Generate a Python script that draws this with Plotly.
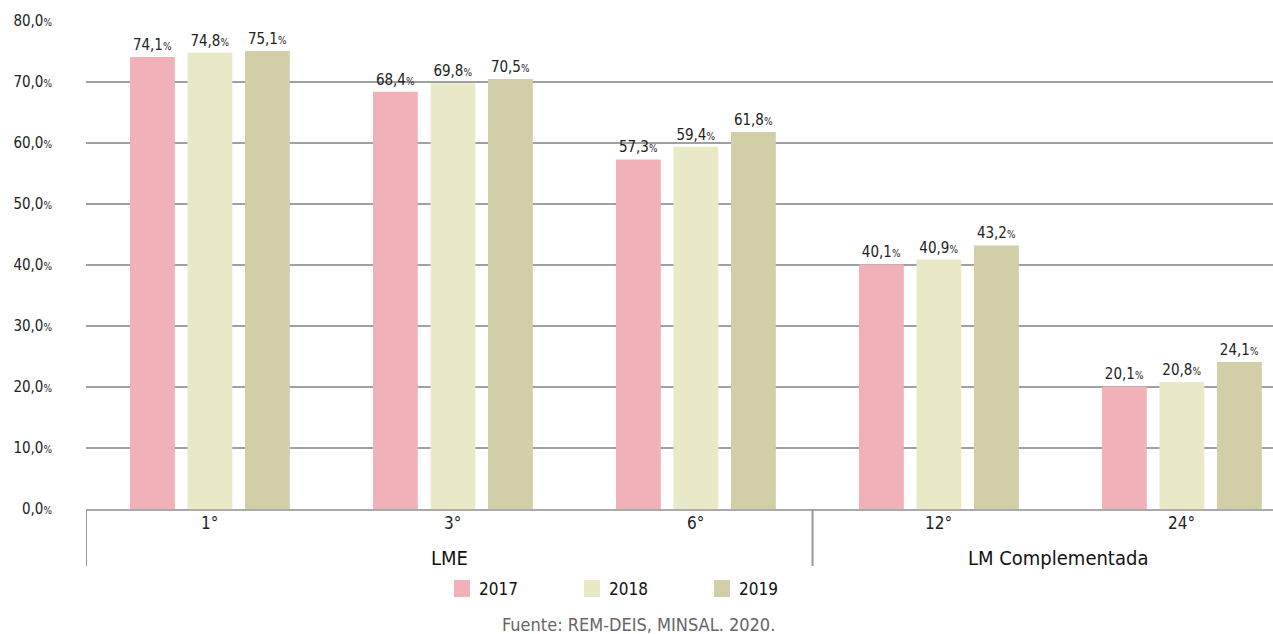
import plotly.graph_objects as go

categories = ["1°", "3°", "6°", "12°", "24°"]
groups = ["LME", "LM Complementada"]
group_spans = [(-0.51, 2.48), (2.48, 4.5)]
series_names = ["2017", "2018", "2019"]
v2017 = [74.1, 68.4, 57.3, 40.1, 20.1]
v2018 = [74.8, 69.8, 59.4, 40.9, 20.8]
v2019 = [75.1, 70.5, 61.8, 43.2, 24.1]
colors = ["#F0B2B8", "#E9E9C8", "#D2CEA8"]
yticks = [0, 10, 20, 30, 40, 50, 60, 70, 80]
source = "Fuente: REM-DEIS, MINSAL. 2020."

FONT = "DejaVu Sans Condensed, DejaVu Sans, sans-serif"
PCT = "<span style='font-size:10px'>%</span>"

def fmt(v):
    return f"{v:.1f}".replace(".", ",") + PCT

xs = list(range(len(categories)))
fig = go.Figure()
for name, vals, col in zip(series_names, [v2017, v2018, v2019], colors):
    fig.add_trace(go.Bar(
        x=xs, y=vals, name=name, marker=dict(color=col, line=dict(width=0)),
        text=[fmt(v) for v in vals], textposition="outside",
        textfont=dict(family=FONT, size=15, color="#222"),
        cliponaxis=False, hoverinfo="skip", showlegend=False,
    ))

H = 488.0
W = 1187.0

def px(xp):
    return (xp - 86) / W

def py(yp):
    return (509 - yp) / H

shapes = []
annotations = []
for x0 in [group_spans[0][0], group_spans[1][0]]:
    shapes.append(dict(type="line", xref="x", yref="paper", x0=x0, x1=x0,
                       y0=0, y1=-57 / H, line=dict(color="#999", width=2)))
for x, c in zip(xs, categories):
    annotations.append(dict(x=x, y=-14 / H, xref="x", yref="paper", text=c,
                            showarrow=False, yanchor="middle",
                            font=dict(family=FONT, size=17, color="#222")))
for (a, b), g in zip(group_spans, groups):
    annotations.append(dict(x=(a + b) / 2, y=-49 / H, xref="x", yref="paper", text=g,
                            showarrow=False, yanchor="middle",
                            font=dict(family=FONT, size=20, color="#111")))
# legend (manual, to match square size and spacing)
for i, (name, col) in enumerate(zip(series_names, colors)):
    x0 = 454 + 130 * i
    shapes.append(dict(type="rect", xref="paper", yref="paper",
                       x0=px(x0), x1=px(x0 + 16), y0=py(597), y1=py(580),
                       fillcolor=col, line=dict(width=0)))
    annotations.append(dict(x=px(x0 + 23), y=py(589), xref="paper", yref="paper",
                            text=name, showarrow=False, xanchor="left", yanchor="middle",
                            font=dict(family=FONT, size=17, color="#111")))
annotations.append(dict(x=px(638), y=py(624), xref="paper", yref="paper",
                        text=source, showarrow=False, yanchor="middle",
                        font=dict(family=FONT, size=18, color="#666")))

fig.update_layout(
    width=1273, height=634,
    margin=dict(l=86, r=0, t=21, b=125, pad=0, autoexpand=False),
    paper_bgcolor="white", plot_bgcolor="white",
    barmode="group", bargap=0.29, bargroupgap=0.22,
    font=dict(family=FONT, size=15, color="#222"),
    showlegend=False,
    xaxis=dict(range=[-0.51, (1273 - 209) / 243.2], showticklabels=False,
               showgrid=False, zeroline=False, showline=True,
               linecolor="#aaa", linewidth=2, ticks=""),
    yaxis=dict(range=[0, 80], tickvals=yticks,
               ticktext=[f"{v:.1f}".replace(".", ",") + PCT for v in yticks],
               showgrid=True, gridcolor="#a0a0a0", gridwidth=2,
               zeroline=False, showline=False, ticks="",
               ticklabelstandoff=33,
               tickfont=dict(family=FONT, size=15, color="#222")),
    shapes=shapes, annotations=annotations,
)
fig.write_html("out.html", config={"displayModeBar": False},
               post_script="document.body.style.margin='0px';")
